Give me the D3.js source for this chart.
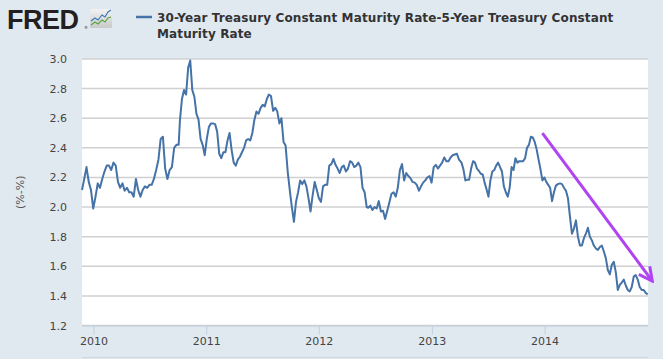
<!DOCTYPE html>
<html>
<head>
<meta charset="utf-8">
<script src="https://cdn.jsdelivr.net/npm/d3@7"></script>
<style>
  body { margin: 0; background: #e1e9f0; }
  svg { display: block; font-family: "DejaVu Sans", Verdana, sans-serif; }
</style>
</head>
<body>
<svg></svg>
<script>
const size = {w: 663, h: 359};
const plot = {l: 82, r: 648, t: 59, b: 325.5};

// weekly readings of the spread (percentage points), in six stretches
const stretchStarts = ['2009-11-25', '2010-10-08', '2011-08-06', '2012-06-09', '2013-04-07', '2014-02-20'];
const stretchEnds   = ['2010-10-04', '2011-07-30', '2012-06-04', '2013-03-30', '2014-02-13', '2014-12-01'];

const stretch1 = [2.115, 2.19, 2.27, 2.17, 2.115, 1.99, 2.07, 2.16, 2.13, 2.19, 2.24, 2.28, 2.28, 2.25, 2.30,
  2.28, 2.17, 2.13, 2.16, 2.11, 2.13, 2.10, 2.10, 2.07, 2.19, 2.115, 2.07, 2.115, 2.14, 2.13,
  2.15, 2.15, 2.19, 2.25, 2.32, 2.46, 2.475, 2.26, 2.19, 2.25, 2.27, 2.40, 2.42, 2.42];
const stretch2 = [2.58, 2.73, 2.79, 2.76, 2.94, 2.99, 2.79, 2.745, 2.63, 2.59, 2.46, 2.42, 2.35, 2.46, 2.54,
  2.565, 2.565, 2.56, 2.51, 2.36, 2.33, 2.37, 2.37, 2.45, 2.50, 2.385, 2.30, 2.28, 2.32, 2.34,
  2.37, 2.40, 2.45, 2.46, 2.45, 2.50, 2.59, 2.645, 2.63, 2.67, 2.69, 2.68, 2.73, 2.76, 2.75];
const stretch3 = [2.65, 2.67, 2.645, 2.565, 2.60, 2.44, 2.415, 2.24, 2.115, 2.00, 1.90, 2.035, 2.10, 2.18, 2.155,
  2.18, 2.14, 2.06, 1.97, 2.08, 2.17, 2.115, 2.06, 2.035, 2.14, 2.15, 2.15, 2.28, 2.29, 2.325,
  2.285, 2.26, 2.23, 2.27, 2.28, 2.24, 2.26, 2.31, 2.30, 2.27, 2.28, 2.30, 2.27, 2.13, 2.10, 2.00];
const stretch4 = [1.995, 2.01, 1.98, 2.00, 1.99, 2.04, 1.97, 1.975, 1.92, 1.975, 2.03, 2.09, 2.10, 2.07, 2.13,
  2.25, 2.29, 2.18, 2.23, 2.21, 2.195, 2.17, 2.165, 2.15, 2.11, 2.14, 2.165, 2.18, 2.20, 2.21,
  2.165, 2.27, 2.285, 2.26, 2.28, 2.30, 2.335, 2.31, 2.31, 2.335, 2.35, 2.355, 2.36, 2.32];
const stretch5 = [2.30, 2.255, 2.18, 2.185, 2.185, 2.26, 2.31, 2.30, 2.26, 2.245, 2.225, 2.22, 2.165, 2.12, 2.07,
  2.18, 2.24, 2.25, 2.28, 2.30, 2.27, 2.24, 2.14, 2.10, 2.07, 2.13, 2.27, 2.25, 2.33, 2.30,
  2.31, 2.31, 2.31, 2.33, 2.40, 2.42, 2.475, 2.47, 2.44, 2.39, 2.32, 2.255, 2.18, 2.20, 2.17,
  2.15, 2.13, 2.04, 2.10, 2.145, 2.155];
const stretch6 = [2.16, 2.155, 2.13, 2.11, 2.06, 1.935, 1.82, 1.855, 1.91, 1.80, 1.74, 1.74, 1.79, 1.82, 1.86,
  1.80, 1.775, 1.74, 1.72, 1.71, 1.73, 1.74, 1.70, 1.655, 1.575, 1.545, 1.61, 1.63, 1.56, 1.44,
  1.475, 1.49, 1.51, 1.47, 1.44, 1.43, 1.46, 1.53, 1.54, 1.51, 1.46, 1.44, 1.44, 1.42, 1.41];

const yTicks = [1.2, 1.4, 1.6, 1.8, 2.0, 2.2, 2.4, 2.6, 2.8, 3.0];
const xDomain = ['2009-11-25', '2014-12-02'];
const legendLines = ['30-Year Treasury Constant Maturity Rate-5-Year Treasury Constant', 'Maturity Rate'];
const yTitle = '(%-%)';

// hand drawn trend arrow
const trendFrom = ['2013-12-25', 2.5];
const trendTo = ['2014-12-16', 1.5];

const parse = d3.timeParse('%Y-%m-%d');
const svg = d3.select('svg').attr('width', size.w).attr('height', size.h);

// spread each stretch's weekly readings evenly between its first and last date
let data = [];
[stretch1, stretch2, stretch3, stretch4, stretch5, stretch6].forEach((vals, i) => {
    let t = d3.scaleLinear()
        .domain([0, vals.length - 1])
        .range([+parse(stretchStarts[i]), +parse(stretchEnds[i])]);
    vals.forEach((v, j) => data.push({date: new Date(t(j)), value: v}));
});

const x = d3.scaleTime().domain(xDomain.map(parse)).range([plot.l, plot.r]);
const y = d3.scaleLinear().domain([1.2, 3.0]).range([plot.b, plot.t]);

// background + plot area
svg.append('rect').attr('width', size.w).attr('height', size.h).attr('fill', '#e1e9f0');
svg.append('rect')
    .attr('x', plot.l).attr('y', plot.t)
    .attr('width', plot.r - plot.l).attr('height', plot.b - plot.t)
    .attr('fill', '#fff');

// grid
svg.append('g').selectAll('line')
    .data(yTicks)
    .join('line')
    .attr('x1', plot.l).attr('x2', plot.r)
    .attr('y1', d => y(d)).attr('y2', d => y(d))
    .attr('stroke', '#d0d0d0')
    .attr('stroke-width', 1.5);

// y axis labels
const yAxis = svg.append('g')
    .attr('transform', `translate(${plot.l},0)`)
    .call(d3.axisLeft(y).tickValues(yTicks).tickFormat(d3.format('.1f')).tickSize(0).tickPadding(15));
yAxis.select('.domain').remove();
yAxis.selectAll('text').attr('font-size', 11).attr('fill', '#444').attr('font-family', '"DejaVu Sans", Verdana, sans-serif');

svg.append('text')
    .attr('transform', `translate(24,${(plot.t + plot.b) / 2}) rotate(-90)`)
    .attr('text-anchor', 'middle')
    .attr('font-size', 11)
    .attr('fill', '#555')
    .text(yTitle);

// x axis
const xAxis = svg.append('g')
    .attr('transform', `translate(0,${plot.b})`)
    .call(d3.axisBottom(x).ticks(d3.timeYear.every(1)).tickFormat(d3.timeFormat('%Y'))
        .tickSize(9).tickSizeOuter(0).tickPadding(3));
xAxis.select('.domain').attr('stroke', '#c0d0e0');
xAxis.selectAll('line').attr('stroke', '#c0d0e0');
xAxis.selectAll('text').attr('font-size', 11).attr('fill', '#444').attr('font-family', '"DejaVu Sans", Verdana, sans-serif');

svg.append('line')
    .attr('x1', plot.l).attr('x2', plot.r)
    .attr('y1', 357.5).attr('y2', 357.5)
    .attr('stroke', '#cdd8e3');

// series
const line = d3.line().x(d => x(d.date)).y(d => y(d.value));
svg.append('path')
    .datum(data)
    .attr('d', line)
    .attr('fill', 'none')
    .attr('stroke', '#4572a7')
    .attr('stroke-width', 2)
    .attr('stroke-linejoin', 'round');

// arrow
const purple = '#b043f2';
svg.append('defs').append('marker')
    .attr('id', 'head')
    .attr('markerUnits', 'userSpaceOnUse')
    .attr('viewBox', '-16 -9 18 18')
    .attr('markerWidth', 18).attr('markerHeight', 18)
    .attr('refX', 0).attr('refY', 0)
    .attr('orient', 'auto')
    .append('path')
    .attr('d', 'M-13.5,-6.8L0,0L-13.5,6.8')
    .attr('fill', 'none')
    .attr('stroke', purple)
    .attr('stroke-width', 3)
    .attr('stroke-linejoin', 'miter');

svg.append('line')
    .attr('x1', x(parse(trendFrom[0]))).attr('y1', y(trendFrom[1]))
    .attr('x2', x(parse(trendTo[0]))).attr('y2', y(trendTo[1]))
    .attr('stroke', purple)
    .attr('stroke-width', 3)
    .attr('marker-end', 'url(#head)');

// header: logo
const logo = svg.append('g');
logo.append('text')
    .attr('x', 7).attr('y', 28.5)
    .attr('font-family', '"Liberation Sans", Arial, sans-serif')
    .attr('font-weight', 'bold')
    .attr('font-size', 27)
    .attr('letter-spacing', -0.5)
    .attr('fill', '#231f20')
    .text('FRED');
logo.append('text')
    .attr('x', 84).attr('y', 29)
    .attr('font-size', 4)
    .attr('fill', '#231f20')
    .text('®');
const grad = svg.select('defs').append('linearGradient')
    .attr('id', 'icon').attr('x1', 0).attr('x2', 0).attr('y1', 0).attr('y2', 1);
grad.append('stop').attr('offset', 0).attr('stop-color', '#f2f2f2');
grad.append('stop').attr('offset', 1).attr('stop-color', '#c9c9c9');
logo.append('rect')
    .attr('x', 90).attr('y', 9).attr('width', 22).attr('height', 19).attr('rx', 1.5)
    .attr('fill', 'url(#icon)');
logo.append('polyline')
    .attr('points', '91,21 95,18 98,20 102,15 105,17 108,12 111,10')
    .attr('fill', 'none').attr('stroke', '#3d7ab8').attr('stroke-width', 1.2);
logo.append('polyline')
    .attr('points', '91,25 95,22 98,24 102,20 105,22 108,18 111,17')
    .attr('fill', 'none').attr('stroke', '#5aa545').attr('stroke-width', 1.2);

// legend
svg.append('line')
    .attr('x1', 136).attr('x2', 152)
    .attr('y1', 17).attr('y2', 17)
    .attr('stroke', '#4572a7')
    .attr('stroke-width', 2.5);
svg.append('g').selectAll('text')
    .data(legendLines)
    .join('text')
    .attr('x', 157)
    .attr('y', (d, i) => 21.5 + i * 16)
    .attr('font-size', 12)
    .attr('font-weight', 'bold')
    .attr('letter-spacing', 0.12)
    .attr('fill', '#333')
    .text(d => d);
</script>
</body>
</html>
